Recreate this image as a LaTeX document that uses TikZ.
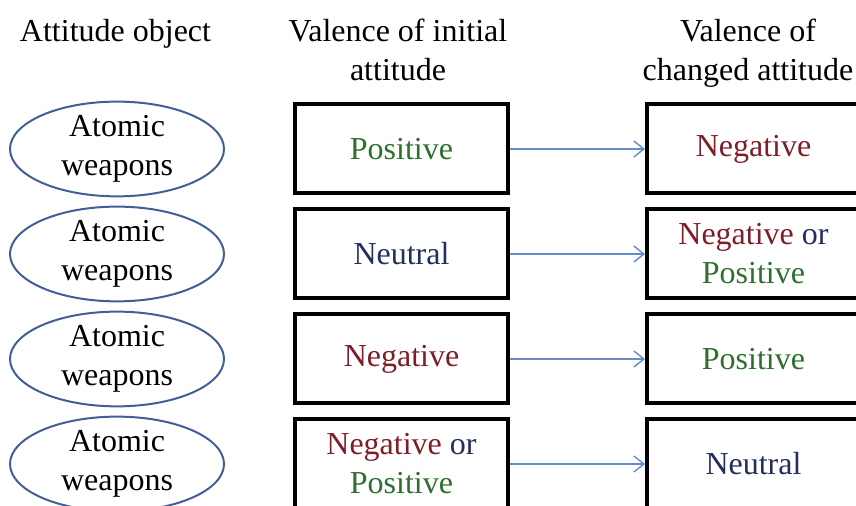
\documentclass[tikz,border=0pt]{standalone}
\usepackage{fontspec}
\setmainfont{Liberation Serif}
\usetikzlibrary{shapes,arrows,positioning}
\usetikzlibrary{arrows.meta}
\definecolor{posgreen}{RGB}{45,112,45}
\definecolor{negred}{RGB}{125,30,40}
\definecolor{neublue}{RGB}{35,45,95}
\definecolor{objblue}{RGB}{65,95,150}
\definecolor{arrblue}{RGB}{100,140,200}

\newcommand{\posv}{\textcolor{posgreen}{Positive}}
\newcommand{\negv}{\textcolor{negred}{Negative}}
\newcommand{\neuv}{\textcolor{neublue}{Neutral}}
\newcommand{\orv}{\textcolor{neublue}{or}}

\begin{document}
\begin{tikzpicture}[x=0.5pt,y=-0.5pt,
    every node/.style={font=\fontsize{16}{19.5}\selectfont,align=center},
    objnode/.style={ellipse,draw=objblue,line width=1pt,minimum width=107pt,minimum height=45pt,inner sep=0pt},
    valnode/.style={draw,rectangle,line width=2pt,minimum width=106.5pt,minimum height=44.5pt,inner sep=0pt},
    headnode/.style={anchor=north,inner sep=0pt},
    arrowline/.style={arrblue,line width=0.7pt,-{Straight Barb[length=5pt,width=8pt]}}
  ]
  \useasboundingbox (0,0) rectangle (856,506);

  % the headings
  \node[headnode] (hobj) at (115.5,19) {Attitude object};
  \node[headnode] (hinit) at (398,19) {Valence of initial\\attitude};
  \node[headnode] (hchg) at (748,19) {Valence of\\changed attitude};

  % the rows
  \foreach \y/\a/\b [count=\i] in {149/{\posv}/{\negv},
      254/{\neuv}/{\negv{} \orv\\\posv},
      359/{\negv}/{\posv},
      464/{\negv{} \orv\\\posv}/{\neuv}} {
    \node[objnode] (obj\i) at (117,\y) {Atomic\\weapons};
    \node[valnode] (init\i) at (401.5,\y) {\a};
    \node[valnode] (chg\i) at (753.5,\y) {\b};
    \draw[arrowline] (init\i) -- (chg\i);
  }
\end{tikzpicture}
\end{document}
